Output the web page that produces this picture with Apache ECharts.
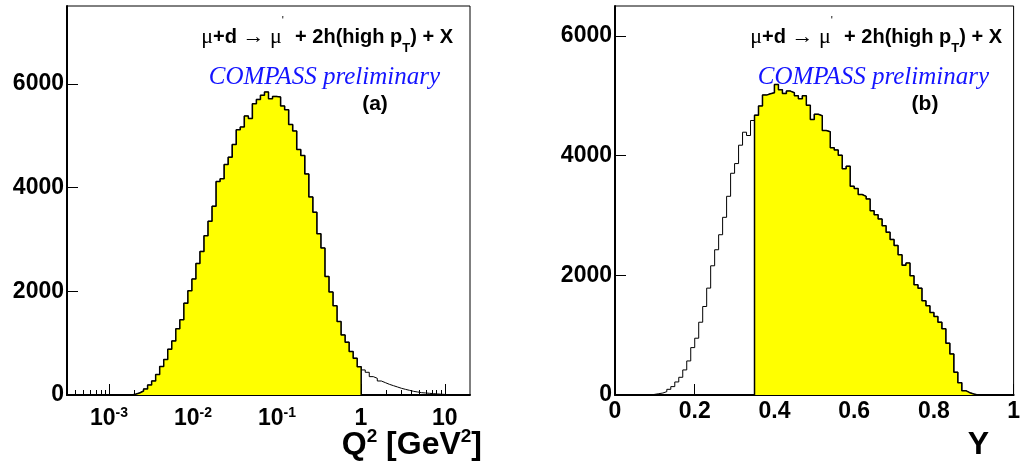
<!DOCTYPE html>
<html><head><meta charset="utf-8">
<script src="https://cdn.jsdelivr.net/npm/echarts@6/dist/echarts.min.js"></script>
<style>html,body{margin:0;padding:0;background:#fff}#c{width:1023px;height:464px}</style>
</head><body><div id="c"></div>
<script>
// ---------- Panel (a): Q^2 histogram, 100 bins uniform in log10(Q^2) ----------
const q2LogMin = -3.5;
const q2LogMax = 1.3;
const q2Counts = [
  0,0,0,0,0,0,0,0,0,0,
  0,0,0,0,0,0,15,39,77,116,
  193,270,393,548,683,882,1043,1275,1449,1771,
  2009,2235,2537,2769,3072,3349,3639,4115,4167,4444,
  4585,4830,5113,5165,5378,5332,5616,5699,5777,5841,
  5713,5757,5744,5571,5500,5216,5088,4733,4617,4263,
  3819,3523,3111,2834,2286,1984,1719,1417,1159,1018,
  837,708,547,483,438,354,322,270,238,206,
  180,155,129,109,90,71,58,45,39,32,
  26,20,15,10,6,3,0,0,0,0
];
const q2CutMax = 1;                       // filled: Q^2 < 1 GeV^2
const q2MajorExp = [-3, -2, -1, 0, 1];    // decades labelled
const q2CountMax = 7500;

// ---------- Panel (b): Y histogram, 100 bins from 0 to 1 ----------
const yLo = 0;
const yHi = 1;
const yCounts = [
  0,0,0,0,0,0,0,0,0,11,
  22,33,56,95,140,218,296,419,569,792,
  949,1216,1479,1786,2159,2427,2678,2969,3320,3705,
  3867,4174,4391,4336,4587,4676,4827,5011,5033,5050,
  5189,5100,5040,5078,5050,5000,4950,5000,4840,4604,
  4690,4665,4419,4400,4130,4095,4006,3780,3822,3487,
  3450,3350,3320,3276,3080,3013,2941,2830,2720,2600,
  2500,2344,2170,2204,1992,1841,1785,1573,1490,1378,
  1311,1216,1105,865,686,380,206,72,39,17,
  0,0,0,0,0,0,0,0,0,0
];
const yCutMin = 0.35;                     // filled: Y > 0.35
const yCountMax = 6500;
const countTicks = [0, 2000, 4000, 6000];

// ---------- helpers ----------
function histPoints(lo, width, counts) {
  const pts = counts.map((c, i) => [lo + i * width, c]);
  pts.push([lo + counts.length * width, counts[counts.length - 1]]);
  return pts;
}
const q2W = (q2LogMax - q2LogMin) / q2Counts.length;
const yW = (yHi - yLo) / yCounts.length;
const q2Cut = q2Counts.map((c, i) => (q2LogMin + (i + 0.5) * q2W) < Math.log10(q2CutMax) ? c : 0);
const yCut = yCounts.map((c, i) => (yLo + (i + 0.5) * yW) > yCutMin ? c : 0);

const minorLog = [];
for (let n = -4; n <= 1; n++) for (let m = 2; m <= 9; m++) {
  const v = Math.log10(m) + n;
  if (v > q2LogMin && v < q2LogMax) minorLog.push(v);
}

const FONT = 'Liberation Sans';
const black = '#000';
const labelBase = { color: black, fontFamily: FONT, fontWeight: 'bold', fontSize: 23 };

const chart = echarts.init(document.getElementById('c'), null, { renderer: 'canvas' });

const gridStyle = { show: true, borderColor: black, borderWidth: 1, backgroundColor: '#fff' };

const option = {
  animation: false,
  grid: [
    Object.assign({ left: 67, top: 6, width: 403, height: 389 }, gridStyle),
    Object.assign({ left: 615, top: 6, width: 404, height: 389 }, gridStyle)
  ],
  xAxis: [
    { gridIndex: 0, type: 'value', position: 'bottom', min: q2LogMin, max: q2LogMax,
      axisLine: { onZero: false, lineStyle: { color: black, width: 2 } },
      splitLine: { show: false },
      axisTick: { inside: true, length: 11, customValues: q2MajorExp, lineStyle: { color: black, width: 1 } },
      axisLabel: { customValues: q2MajorExp, margin: 11, color: black,
        formatter: v => { const e = Math.round(v); return e === 0 ? '{b|1}' : e === 1 ? '{b|10}' : '{b|10}{s|' + e + '}'; },
        rich: {
          b: Object.assign({ lineHeight: 26 }, labelBase),
          s: { color: black, fontFamily: FONT, fontWeight: 'bold', fontSize: 14, lineHeight: 14, verticalAlign: 'top' }
        } } },
    { gridIndex: 0, type: 'value', position: 'bottom', min: q2LogMin, max: q2LogMax,
      axisLine: { show: false, onZero: false }, splitLine: { show: false }, axisLabel: { show: false },
      axisTick: { inside: true, length: 5, customValues: minorLog, lineStyle: { color: black, width: 1 } } },
    { gridIndex: 1, type: 'value', position: 'bottom', min: yLo, max: yHi, interval: 0.2,
      axisLine: { onZero: false, lineStyle: { color: black, width: 2 } },
      splitLine: { show: false },
      axisTick: { inside: true, length: 11, lineStyle: { color: black, width: 1 } },
      axisLabel: Object.assign({ margin: 5, formatter: v => (v === 0 || v === 1) ? String(v) : v.toFixed(1) }, labelBase) }
  ],
  yAxis: [
    { gridIndex: 0, type: 'value', position: 'left', min: 0, max: q2CountMax, interval: 2000,
      axisLine: { onZero: false, lineStyle: { color: black, width: 2 } }, splitLine: { show: false },
      axisTick: { inside: true, length: 11, customValues: countTicks, lineStyle: { color: black, width: 1 } },
      axisLabel: Object.assign({ margin: 3, customValues: countTicks, formatter: v => String(v) }, labelBase) },
    { gridIndex: 1, type: 'value', position: 'left', min: 0, max: yCountMax, interval: 2000,
      axisLine: { onZero: false, lineStyle: { color: black, width: 2 } }, splitLine: { show: false },
      axisTick: { inside: true, length: 11, customValues: countTicks, lineStyle: { color: black, width: 1 } },
      axisLabel: Object.assign({ margin: 3, customValues: countTicks, formatter: v => String(v) }, labelBase) }
  ],
  series: [
    { type: 'line', xAxisIndex: 0, yAxisIndex: 0, step: 'end', symbol: 'none', z: 2,
      data: histPoints(q2LogMin, q2W, q2Counts), lineStyle: { color: black, width: 1 } },
    { type: 'line', xAxisIndex: 0, yAxisIndex: 0, step: 'end', symbol: 'none', z: 3,
      data: histPoints(q2LogMin, q2W, q2Cut), lineStyle: { color: black, width: 1.5 },
      areaStyle: { color: '#ffff00', opacity: 1 } },
    { type: 'line', xAxisIndex: 2, yAxisIndex: 1, step: 'end', symbol: 'none', z: 2,
      data: histPoints(yLo, yW, yCounts), lineStyle: { color: black, width: 1 } },
    { type: 'line', xAxisIndex: 2, yAxisIndex: 1, step: 'end', symbol: 'none', z: 3,
      data: histPoints(yLo, yW, yCut), lineStyle: { color: black, width: 1.5 },
      areaStyle: { color: '#ffff00', opacity: 1 } }
  ]
};

// ---------- text annotations ----------
const reactionText = '{m|\u03bc}{b|+d }{m|\u2192 \u03bc}{p|\'}{b|  + 2h(high p}{t|T}{b|) + X}';
const reactionRich = {
  b: { fill: black, fontFamily: FONT, fontWeight: 'bold', fontSize: 20, lineHeight: 44 },
  m: { fill: black, fontFamily: 'Liberation Serif', fontSize: 22, lineHeight: 44 },
  p: { fill: black, fontFamily: FONT, fontSize: 11, lineHeight: 11, verticalAlign: 'top' },
  t: { fill: black, fontFamily: FONT, fontWeight: 'bold', fontSize: 13, lineHeight: 13, verticalAlign: 'bottom', padding: [0, 0, 4, 0] }
};
const compassStyle = { fill: '#1414ff', fontFamily: 'Liberation Serif', fontStyle: 'italic', fontSize: 25 };
const tagStyle = { fill: black, fontFamily: FONT, fontWeight: 'bold', fontSize: 21 };
const axisTitleRich = {
  b: { fill: black, fontFamily: FONT, fontWeight: 'bold', fontSize: 32, lineHeight: 36 },
  s: { fill: black, fontFamily: FONT, fontWeight: 'bold', fontSize: 19, lineHeight: 19, verticalAlign: 'top' }
};
function txt(x, y, style) {
  return { type: 'text', x: x, y: y, z: 100, style: style };
}
option.graphic = [
  txt(453, 37, { text: reactionText, rich: reactionRich, align: 'right', verticalAlign: 'middle' }),
  txt(1002, 37, { text: reactionText, rich: reactionRich, align: 'right', verticalAlign: 'middle' }),
  txt(440, 77, Object.assign({ text: 'COMPASS preliminary', align: 'right', verticalAlign: 'middle' }, compassStyle)),
  txt(989, 77, Object.assign({ text: 'COMPASS preliminary', align: 'right', verticalAlign: 'middle' }, compassStyle)),
  txt(375, 104, Object.assign({ text: '(a)', align: 'center', verticalAlign: 'middle' }, tagStyle)),
  txt(925, 104, Object.assign({ text: '(b)', align: 'center', verticalAlign: 'middle' }, tagStyle)),
  txt(482, 445, { text: '{b|Q}{s|2}{b| [GeV}{s|2}{b|]}', rich: axisTitleRich, align: 'right', verticalAlign: 'middle' }),
  txt(989, 445, { text: '{b|Y}', rich: axisTitleRich, align: 'right', verticalAlign: 'middle' })
];

chart.setOption(option);
</script>
</body></html>
